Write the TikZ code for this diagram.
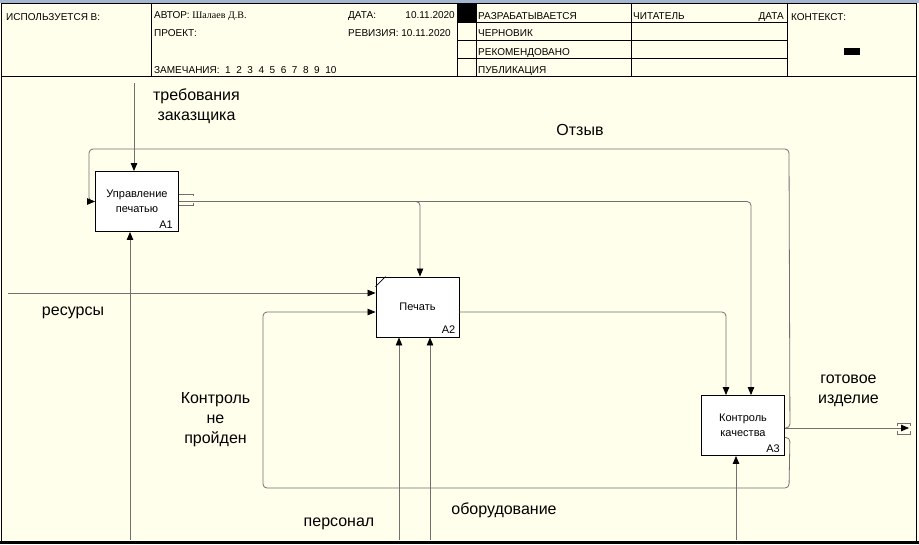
\documentclass[tikz,border=0pt]{standalone}
\usepackage{fontspec}
\setmainfont{Liberation Sans}
\newfontfamily\serifname{Liberation Serif}
\usetikzlibrary{arrows.meta,calc}
\definecolor{bgc}{HTML}{FFFFEC}
\definecolor{barc}{HTML}{A5B7D0}
\definecolor{arrc}{HTML}{707070}
\tikzset{
  func/.style={draw=black, fill=white, minimum width=83pt, minimum height=60pt, inner sep=0pt, align=center, font=\fontsize{11}{14.5}\selectfont, line width=0.9pt},
  fnum/.style={font=\fontsize{11}{12}\selectfont, inner sep=0pt, anchor=base east},
  arr/.style={draw=arrc, line width=0.8pt, rounded corners=4pt, -{Triangle[length=8pt,width=6.5pt,color=black]}},
  ln/.style={draw=arrc, line width=0.8pt},
  lbl/.style={font=\fontsize{16}{20}\selectfont, align=center, inner sep=0pt},
  hdr/.style={font=\fontsize{10}{12}\selectfont, inner sep=0pt, anchor=base west},
  hdre/.style={font=\fontsize{10}{12}\selectfont, inner sep=0pt, anchor=base east},
  frm/.style={draw=black, line width=0.9pt},
}
\begin{document}
\begin{tikzpicture}[x=1pt,y=-1pt]
\useasboundingbox (0,0) rectangle (919,544);
\fill[bgc] (0,0) rectangle (919,544);
\fill[barc] (0,0) rectangle (919,2.5);
% frame
\draw[frm] (1,3) -- (916,3) -- (916,541) (1,3) -- (1,541);
\fill[black] (0,540.5) rectangle (919,544);
% header grid
\draw[frm] (1,76) -- (916,76);
\draw[frm] (151,3) -- (151,76);
\draw[frm] (457,3) -- (457,76);
\draw[frm] (476,3) -- (476,76);
\draw[frm] (631,3) -- (631,76);
\draw[frm] (787,3) -- (787,76);
\draw[frm] (457,22) -- (787,22);
\draw[frm] (457,40) -- (787,40);
\draw[frm] (457,58) -- (787,58);
\fill[black] (457,3) rectangle (476,22);
\fill[black] (844,48) rectangle (860,55);
% header texts
\node[hdr] (hused) at (6,20.5) {ИСПОЛЬЗУЕТСЯ В:};
\node[hdr] (hauth) at (154,18.5) {АВТОР: {\serifname Шалаев Д.В.}};
\node[hdr] (hproj) at (154,36) {ПРОЕКТ:};
\node[hdr] (hnote) at (154,73) {ЗАМЕЧАНИЯ:\ \ 1\ \ 2\ \ 3\ \ 4\ \ 5\ \ 6\ \ 7\ \ 8\ \ 9\ \ 10};
\node[hdr] (hdate) at (348,18.5) {ДАТА:};
\node[hdre] (hdatev) at (455,18.5) {10.11.2020};
\node[hdr] (hrev) at (348,36) {РЕВИЗИЯ: 10.11.2020};
\node[hdr] (hs1) at (478,19) {РАЗРАБАТЫВАЕТСЯ};
\node[hdr] (hs2) at (478,36.5) {ЧЕРНОВИК};
\node[hdr] (hs3) at (478,55) {РЕКОМЕНДОВАНО};
\node[hdr] (hs4) at (478,73) {ПУБЛИКАЦИЯ};
\node[hdr] (hread) at (633,19) {ЧИТАТЕЛЬ};
\node[hdre] (hrdate) at (784,19) {ДАТА};
\node[hdr] (hctx) at (791,20.5) {КОНТЕКСТ:};
% function boxes
\node[func] (A1) at (137,201.5) {Управление\\печатью};
\node[fnum] (A1n) at ([xshift=-6pt,yshift=3pt]A1.south east) {A1};
\node[func] (A2) at (417.5,307) {Печать};
\node[fnum] (A2n) at ([xshift=-4pt,yshift=4pt]A2.south east) {A2};
\draw[line width=0.8pt] ([yshift=-10pt]A2.north west) -- ([xshift=10pt]A2.north west);
\node[func] (A3) at (743,425.5) {Контроль\\качества};
\node[fnum] (A3n) at ([xshift=-5pt,yshift=3.5pt]A3.south east) {A3};
% coordinates of free ends
\coordinate (ctl) at (134,83);
\coordinate (m1) at (130,540);
\coordinate (res) at (8,293);
\coordinate (m2a) at (399,540);
\coordinate (m2b) at (430,540);
\coordinate (m3) at (736,540);
\coordinate (out) at (909,428);
% connectors
\draw[arr] (ctl) -- (ctl |- A1.north);
\draw[arr] (m1) -- (m1 |- A1.south);
\draw[arr] (res) -- (res -| A2.west);
\draw[arr] (m2a) -- (m2a |- A2.south);
\draw[arr] (m2b) -- (m2b |- A2.south);
\draw[arr] (m3) -- (m3 |- A3.south);
\draw[arr] (A1.east) -| ([xshift=2.5pt]A2.north);
\draw[arr] (A1.east) -| ([xshift=8pt]A3.north);
\draw[arr] ([yshift=-5pt]A2.east) -| ([xshift=-17pt]A3.north);
\draw[arr] ([yshift=-2.5pt]A3.east) -- (out);
\draw[arr] ([yshift=-2.5pt]A3.east) -- ++(5,0) -- (789,149) -- (89,149) |- (A1.west);
\draw[arr] ([yshift=-12pt]A3.east) -- ++(5,0) -- (789,488) -- (263,488) |- ([yshift=-5pt]A2.west);
% tunnel marks
\draw[ln] ([yshift=7.5pt]A1.east) -- ++(14,0) -- ++(0,2);
\draw[ln] ([yshift=-3.5pt]A1.east) -- ++(14,0) -- ++(0,-2);
\draw[ln] (897,426) -- (897,423) -- (910,423) -- (910,426);
\draw[ln] (897,431) -- (897,434) -- (910,434) -- (910,431);
% labels
\node[lbl] (l1) at (196.5,106) {требования\\заказщика};
\node[lbl] (l2) at (580,130) {Отзыв};
\node[lbl] (l3) at (73,313) {ресурсы};
\node[lbl] (l4) at (215.5,420) {Контроль\\не\\пройден};
\node[lbl] (l5) at (848.5,390.5) {готовое\\изделие};
\node[lbl] (l6) at (339,524) {персонал};
\node[lbl] (l7) at (504,510) {оборудование};
\end{tikzpicture}
\end{document}
